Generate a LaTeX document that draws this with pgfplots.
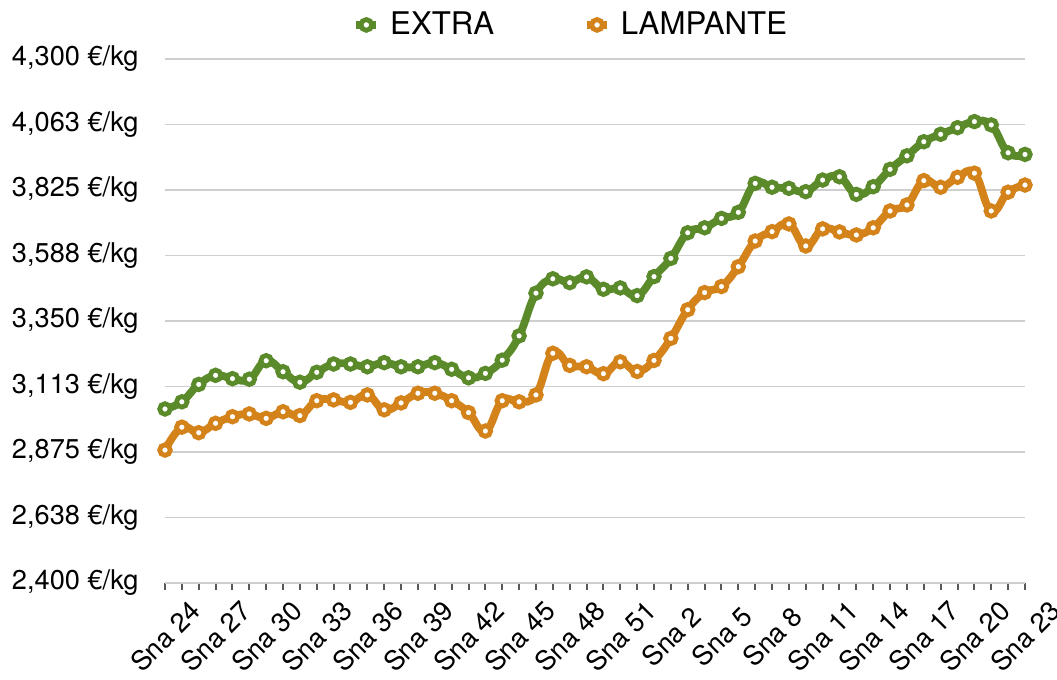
\documentclass[border=0pt]{standalone}
\usepackage{pgfplots}
\pgfplotsset{compat=1.18}
\usepackage{fontspec}
\setmainfont{TeX Gyre Heros}
\definecolor{cgreen}{HTML}{5A8A2A}
\definecolor{corange}{HTML}{D4821A}
\definecolor{cgrid}{HTML}{CFCFCF}
\begin{document}
\begin{tikzpicture}
\begin{axis}[
  scale only axis,
  width=430pt, height=262pt,
  xmin=0, xmax=51, ymin=2400, ymax=4300,
  clip=false,
  axis lines*=left,
  x axis line style={draw=cgrid, line width=0.8pt},
  y axis line style={draw=none},
  ytick={2400,2637.5,2875,3112.5,3350,3587.5,3825,4062.5,4300},
  yticklabels={{2,400 €/kg},{2,638 €/kg},{2,875 €/kg},{3,113 €/kg},{3,350 €/kg},{3,588 €/kg},{3,825 €/kg},{4,063 €/kg},{4,300 €/kg}},
  ytick style={draw=none},
  ymajorgrids,
  grid style={draw=cgrid, line width=0.75pt},
  yticklabel style={anchor=east, inner sep=0pt, xshift=-9.5pt, font=\fontsize{13.6}{16}\selectfont},
  xtick={0,3,...,51},
  minor xtick={0,1,...,51},
  xticklabels={Sna 24,Sna 27,Sna 30,Sna 33,Sna 36,Sna 39,Sna 42,Sna 45,Sna 48,Sna 51,Sna 2,Sna 5,Sna 8,Sna 11,Sna 14,Sna 17,Sna 20,Sna 23},
  xticklabel shift=23.5pt,
  xticklabel style={rotate=45, anchor=center, inner sep=0pt, xshift=0.3pt, font=\fontsize{13.5}{16}\selectfont},
  tick align=outside,
  major tick length=3.5pt, minor tick length=3.5pt,
  xtick style={draw=black!65, line width=1pt},
  minor tick style={draw=black!65, line width=1pt},
  legend columns=2,
  legend style={at={(0.473,1.065)}, anchor=center, draw=none, fill=none,
    font=\fontsize{15.6}{18}\selectfont,
    /tikz/every even column/.append style={column sep=42.5pt},
    /tikz/every odd column/.append style={column sep=3pt}},
  legend image code/.code={\path (0,0) -- (0.35cm,0); \draw[#1, only marks, mark size=2.7pt] plot coordinates {(0.175cm,0cm)};},
]
\addplot[cgreen, line width=3.9pt, smooth, tension=0.75, mark=*, mark size=2.65pt, mark options={draw=cgreen, fill=white, line width=2.4pt, solid}] coordinates {
(0,3031)(1,3057)(2,3120)(3,3153)(4,3141)(5,3139)(6,3206)(7,3166)(8,3128)(9,3164)
(10,3194)(11,3194)(12,3184)(13,3199)(14,3184)(15,3184)(16,3199)(17,3175)(18,3144)(19,3160)
(20,3208)(21,3296)(22,3451)(23,3503)(24,3489)(25,3510)(26,3465)(27,3470)(28,3442)(29,3511)
(30,3577)(31,3670)(32,3688)(33,3722)(34,3744)(35,3849)(36,3835)(37,3831)(38,3819)(39,3861)
(40,3873)(41,3809)(42,3837)(43,3900)(44,3949)(45,4000)(46,4027)(47,4051)(48,4073)(49,4061)
(50,3960)(51,3954)};
\addlegendentry{EXTRA}
\addplot[corange, line width=3.9pt, smooth, tension=0.75, mark=*, mark size=2.65pt, mark options={draw=corange, fill=white, line width=2.4pt, solid}] coordinates {
(0,2882)(1,2965)(2,2945)(3,2979)(4,3003)(5,3013)(6,2997)(7,3021)(8,3007)(9,3061)
(10,3064)(11,3055)(12,3082)(13,3028)(14,3053)(15,3088)(16,3088)(17,3061)(18,3018)(19,2951)
(20,3061)(21,3057)(22,3082)(23,3233)(24,3189)(25,3184)(26,3159)(27,3202)(28,3167)(29,3207)
(30,3287)(31,3391)(32,3453)(33,3475)(34,3547)(35,3640)(36,3674)(37,3702)(38,3622)(39,3684)
(40,3673)(41,3662)(42,3688)(43,3749)(44,3771)(45,3859)(46,3835)(47,3871)(48,3886)(49,3749)
(50,3817)(51,3843)};
\addlegendentry{LAMPANTE}
\end{axis}
\pgfresetboundingbox
\path[use as bounding box] ([shift={(-82.5pt,-48.5pt)}]current axis.south west) rectangle ([shift={(446pt,291.5pt)}]current axis.south west);
\end{tikzpicture}
\end{document}
